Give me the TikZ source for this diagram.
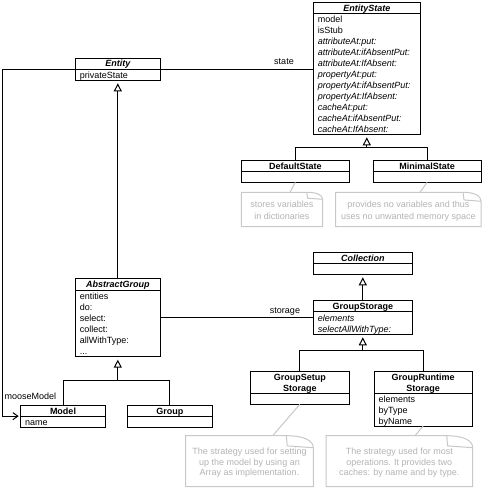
\documentclass[tikz,border=0pt]{standalone}
\usepackage{fontspec}
\setmainfont{Liberation Sans}
\usetikzlibrary{arrows.meta}
\definecolor{notegray}{HTML}{C8C8C8}
\definecolor{notetext}{HTML}{B4B4B4}
\tikzset{
  cls/.style={draw=black, line width=1pt, fill=white, inner sep=0pt, outer sep=0pt},
  divline/.style={draw=black, line width=1pt},
  ttl/.style={font=\fontsize{9}{11}\selectfont\bfseries, text height=6.6pt, text depth=0pt, inner sep=0pt, align=center},
  ttli/.style={ttl, font=\fontsize{9}{11}\selectfont\bfseries\itshape},
  rowtxt/.style={font=\fontsize{9}{11}\selectfont, text height=6.6pt, text depth=0pt, inner sep=0pt, anchor=west},
  lbl/.style={font=\fontsize{9}{11}\selectfont, text height=6.6pt, text depth=0pt, inner sep=0pt},
  conn/.style={draw=black, line width=1pt},
  inh/.style={conn, -{Triangle[open, length=8pt, width=8pt, line width=1pt]}, shorten >=3pt},
  assoc/.style={conn, -{Straight Barb[length=5pt, width=7pt, line width=1pt]}, shorten >=2pt},
  noteline/.style={draw=notegray, line width=1pt},
  notetxt/.style={text=notetext, font=\fontsize{9}{11}\selectfont, text height=6.6pt, text depth=0pt, inner sep=0pt},
}
% name, x0, y0, x1, y1, ydiv
\newcommand\umlbox[6]{%
  \node[cls, minimum width={#4-#2}, minimum height={#5-#3}, anchor=north west] (#1) at (#2,#3) {};
  \coordinate (#1-dl) at (#2,#6);
  \coordinate (#1-dr) at (#4,#6);
  \draw[divline] (#1-dl) -- (#1-dr);
}
% name, x0, y0, x1, y1, fold w, fold h
\newcommand\umlnote[7]{%
  \draw[noteline] (#2,#3) -- (#4-#6,#3) .. controls (#4-0.35*#6,#3) and (#4,#3+0.4*#7) .. (#4,#3+#7) -- (#4,#5) -- (#2,#5) -- cycle;
  \draw[noteline] (#4-#6,#3) .. controls (#4-#6+0.5,#3+0.5*#7) .. (#4-#6+1,#3+0.85*#7) -- (#4,#3+#7);
}
\begin{document}
\begin{tikzpicture}[x=1pt, y=-1pt]
\useasboundingbox[fill=white] (0,0) rectangle (483,488);

% ---------- classes ----------
\umlbox{es}{313.3}{2.3}{420.3}{134.3}{13.7}
\node[ttli] (es-t) at (366.8, 8.2) {EntityState};
\node[rowtxt] (es-r0) at (317.6, 18.9) {model};
\node[rowtxt] (es-r1) at (317.6, 29.9) {isStub};
\node[rowtxt] (es-r2) at (317.6, 40.9) {\itshape attributeAt:put:};
\node[rowtxt] (es-r3) at (317.6, 51.9) {\itshape attributeAt:ifAbsentPut:};
\node[rowtxt] (es-r4) at (317.6, 62.9) {\itshape attributeAt:IfAbsent:};
\node[rowtxt] (es-r5) at (317.6, 73.9) {\itshape propertyAt:put:};
\node[rowtxt] (es-r6) at (317.6, 84.9) {\itshape propertyAt:ifAbsentPut:};
\node[rowtxt] (es-r7) at (317.6, 95.9) {\itshape propertyAt:IfAbsent:};
\node[rowtxt] (es-r8) at (317.6, 106.9) {\itshape cacheAt:put:};
\node[rowtxt] (es-r9) at (317.6, 117.9) {\itshape cacheAt:ifAbsentPut:};
\node[rowtxt] (es-r10) at (317.6, 128.9) {\itshape cacheAt:IfAbsent:};

\umlbox{entity}{75.3}{58.3}{160.3}{80.3}{69}
\node[ttli] (entity-t) at (117.8, 63.6) {Entity};
\node[rowtxt] (entity-r0) at (79.6, 74.7) {privateState};

\umlbox{ds}{241.3}{160.3}{349.3}{182.3}{171.3}
\node[ttl] (ds-t) at (295.3, 165.8) {DefaultState};
\umlbox{ms}{373.3}{160.3}{481}{182.3}{171.3}
\node[ttl] (ms-t) at (427.2, 165.8) {MinimalState};

\umlbox{ag}{75.3}{278.3}{160.3}{356.7}{290}
\node[ttli] (ag-t) at (117.8, 284.2) {AbstractGroup};
\node[rowtxt] (ag-r0) at (79.6, 296) {entities};
\node[rowtxt] (ag-r1) at (79.6, 307) {do:};
\node[rowtxt] (ag-r2) at (79.6, 318) {select:};
\node[rowtxt] (ag-r3) at (79.6, 329) {collect:};
\node[rowtxt] (ag-r4) at (79.6, 340) {allWithType:};
\node[rowtxt] (ag-r5) at (79.6, 351) {...};

\umlbox{model}{20.7}{405}{105.3}{427.3}{416.7}
\node[ttl] (model-t) at (63, 410.9) {Model};
\node[rowtxt] (model-r0) at (25, 422.3) {name};
\umlbox{group}{127.3}{405}{212.3}{427.3}{416.7}
\node[ttl] (group-t) at (169.8, 410.9) {Group};

\umlbox{coll}{313.3}{252.3}{412.3}{274.3}{263.3}
\node[ttli] (coll-t) at (362.8, 257.8) {Collection};

\umlbox{gs}{313.3}{300.7}{412.3}{334.3}{311.7}
\node[ttl] (gs-t) at (362.8, 306.3) {GroupStorage};
\node[rowtxt] (gs-r0) at (317.6, 318.3) {\itshape elements};
\node[rowtxt] (gs-r1) at (317.6, 329.3) {\itshape selectAllWithType:};

\umlbox{gss}{250.3}{371}{349.3}{404.3}{393.3}
\node[ttl] (gss-t1) at (299.8, 376.7) {GroupSetup};
\node[ttl] (gss-t2) at (299.8, 387.7) {Storage};

\umlbox{grs}{374}{371}{472.3}{426}{393.3}
\node[ttl] (grs-t1) at (423.2, 376.7) {GroupRuntime};
\node[ttl] (grs-t2) at (423.2, 387.7) {Storage};
\node[rowtxt] (grs-r0) at (378.3, 399.1) {elements};
\node[rowtxt] (grs-r1) at (378.3, 410.1) {byType};
\node[rowtxt] (grs-r2) at (378.3, 421.1) {byName};

% ---------- associations ----------
\draw[conn] (entity.east) -- (entity.east -| es.west);
\node[lbl] (state-l) at (284,61) {state};

\coordinate (mmx) at (2.7,0);
\draw[assoc] (entity.west) -- (entity.west -| mmx) |- (model.west);
\node[lbl, anchor=west] (mm-l) at (4.5,396) {mooseModel};

\draw[conn] (ag.east) -- (ag.east -| gs.west);
\node[lbl] (storage-l) at (285,310) {storage};

% ---------- generalisations ----------
\draw[inh] (ag.north) -- (entity.south);

\coordinate (j1) at (0,380);
\draw[conn] (model.north) -- (model.north |- j1) -- (group.north |- j1) -- (group.north);
\draw[inh] (ag.south |- j1) -- (ag.south);

\coordinate (j2) at (0,147.7);
\draw[conn] (ds.north) -- (ds.north |- j2) -- (ms.north |- j2) -- (ms.north);
\draw[inh] (es.south |- j2) -- (es.south);

\draw[inh] (gs.north) -- (coll.south);

\coordinate (j3) at (0,350);
\draw[conn] (gss.north) -- (gss.north |- j3) -- (grs.north |- j3) -- (grs.north);
\draw[inh] (gs.south |- j3) -- (gs.south);

% ---------- notes ----------
\umlnote{n1}{241.3}{192.3}{322.7}{226.7}{16}{7}
\coordinate (n1top) at (290,192.3);
\draw[noteline] (ds.south) -- (n1top);
\node[notetxt] (n1-a) at (282,204.3) {stores variables};
\node[notetxt] (n1-b) at (282,216) {in dictionaries};

\umlnote{n2}{335.7}{192.3}{481}{226.7}{18}{9}
\coordinate (n2top) at (420,192.3);
\draw[noteline] (ms.south) -- (n2top);
\node[notetxt] (n2-a) at (408.3,204.3) {provides no variables and thus};
\node[notetxt] (n2-b) at (408.3,216) {uses no unwanted memory space};

\umlnote{n3}{185.7}{435.7}{313.3}{486.7}{27}{12}
\coordinate (n3top) at (272.7,435.7);
\draw[noteline] (gss.south) -- (n3top);
\node[notetxt] (n3-a) at (249.5,451) {The strategy used for setting};
\node[notetxt] (n3-b) at (249.5,461.7) {up the model by using an};
\node[notetxt] (n3-c) at (249.5,472.3) {Array as implementation.};

\umlnote{n4}{326}{435.7}{472.7}{486.7}{26}{12}
\coordinate (n4top) at (415,435.7);
\draw[noteline] (grs.south) -- (n4top);
\node[notetxt] (n4-a) at (399.3,451) {The strategy used for most};
\node[notetxt] (n4-b) at (399.3,461.7) {operations. It provides two};
\node[notetxt] (n4-c) at (399.3,472.3) {caches: by name and by type.};
\end{tikzpicture}
\end{document}
